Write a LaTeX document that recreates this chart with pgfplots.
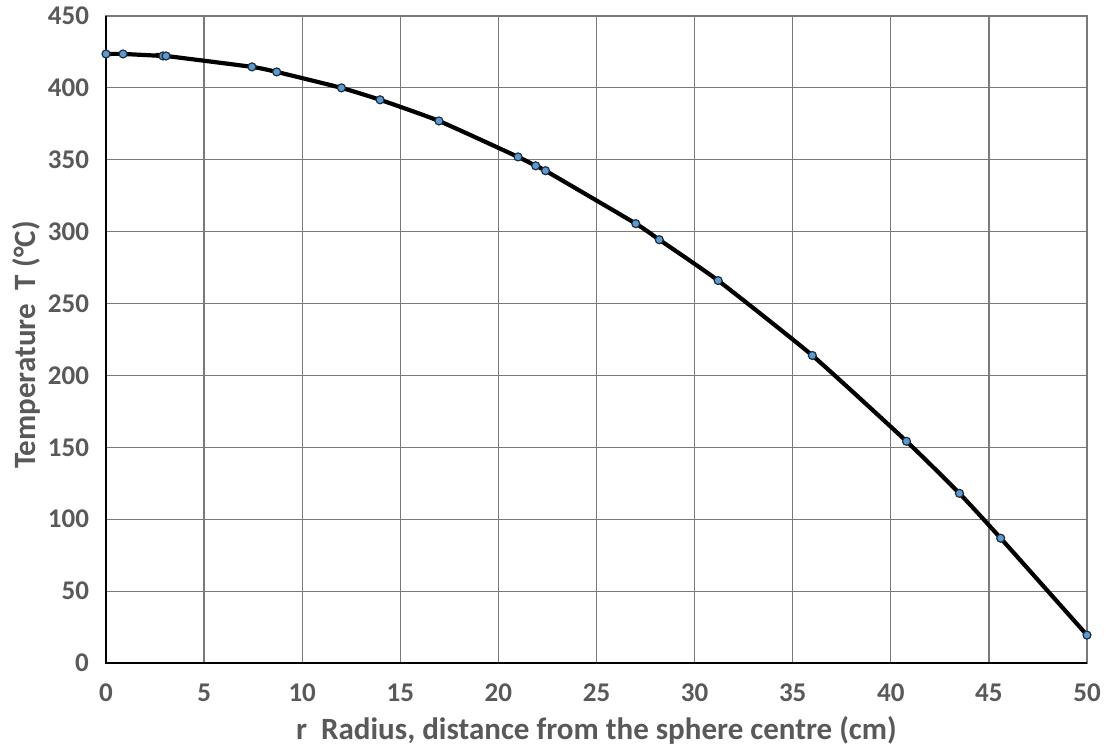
\documentclass[border=0pt]{standalone}
\usepackage{pgfplots}
\pgfplotsset{compat=1.18}
\usepackage{fontspec}
\setmainfont{Carlito}
\definecolor{txtgrey}{HTML}{595959}
\definecolor{gridgrey}{HTML}{7A7A7A}
\definecolor{markblue}{HTML}{5B9BD5}
\definecolor{markedge}{HTML}{1F2D3D}
\begin{document}
\begin{tikzpicture}
\begin{axis}[
  at={(0pt,0pt)}, anchor=origin,
  scale only axis,
  width=490.5pt, height=323.5pt,
  xmin=0, xmax=50, ymin=0, ymax=450,
  xtick={0,5,...,50}, ytick={0,50,...,450},
  grid=major,
  major grid style={draw=gridgrey, line width=0.6pt},
  axis line style={draw=gridgrey, line width=0.6pt},
  major tick length=0pt,
  tick label style={font=\fontsize{13.5}{15}\selectfont\bfseries, text=txtgrey},
  /pgf/number format/assume math mode=true,
  xticklabel style={yshift=-7pt},
  yticklabel style={xshift=-5pt},
  xlabel={r\ \ Radius, distance from the sphere centre (cm)},
  ylabel={Temperature\ \ T (°C)},
  label style={font=\fontsize{15.5}{17}\selectfont\bfseries, text=txtgrey},
  xlabel style={at={(axis description cs:0.5,-0.104)}, anchor=center},
  ylabel style={at={(axis description cs:-0.0815,0.4915)}, anchor=center},
  clip=false,
]
\draw[black, line width=1.2pt] (rel axis cs:0,1) -- (rel axis cs:0,0) -- (rel axis cs:1,0);
\addplot[black, line width=2.1pt, smooth, tension=0.3, mark=*,
  mark options={fill=markblue, draw=markedge, line width=0.6pt, scale=1}]
coordinates {
(0,423.6) (0.87,423.6) (2.9,422.2) (3.06,422.2) (7.44,414.6) (8.7,411.1)
(12.0,400.0) (13.97,391.7) (16.97,377.0) (21.0,352.0) (21.9,345.8) (22.4,342.4)
(27.0,305.6) (28.2,294.4) (31.2,266.0) (36.0,213.9) (40.8,154.2) (43.5,118.0)
(45.6,86.8) (50.0,19.4)
};
\end{axis}
\pgfresetboundingbox
\path (-53pt,-43.5pt) rectangle (500pt,331.5pt);
\end{tikzpicture}
\end{document}
